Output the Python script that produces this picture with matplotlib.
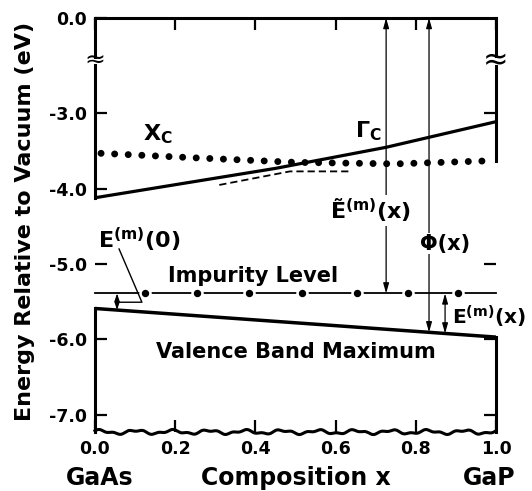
import numpy as np
import matplotlib
matplotlib.use("Agg")
import matplotlib.pyplot as plt

plt.rcParams["font.family"] = ["DejaVu Sans"]
plt.rcParams["font.weight"] = "bold"
plt.rcParams["mathtext.default"] = "bf"

# --- values (composition x, energy in eV) ---
comp_gamma = [0.0, 0.45, 0.726, 1.0]
e_gamma = [-4.12, -3.73, -3.45, -3.11]

comp_xc = [0.015, 0.25, 0.5, 0.75, 0.98]
e_xc = [-3.53, -3.59, -3.65, -3.67, -3.63]

comp_dash = [0.31, 0.486, 0.64]
e_dash = [-3.95, -3.77, -3.77]

comp_vbm = [0.0, 1.0]
e_vbm = [-5.59, -5.97]

e_imp = -5.39
comp_imp_dots = [0.125, 0.254, 0.383, 0.516, 0.653, 0.78, 0.905]

x_etilde = 0.726   # E~(m)(x) arrow
x_phi = 0.833      # Phi(x) arrow
x_em = 0.873       # E(m)(x) arrow
x_em0 = 0.055      # E(m)(0) arrow

xticks = [0.0, 0.2, 0.4, 0.6, 0.8, 1.0]
xtick_labels = ["0.0", "0.2", "0.4", "0.6", "0.8", "1.0"]
yticks = [0.0, -3.0, -4.0, -5.0, -6.0, -7.0]
ytick_labels = ["0.0", "-3.0", "-4.0", "-5.0", "-6.0", "-7.0"]
yticks_right = [-3.0, -5.0, -6.0, -7.0]

Y_BOT = -7.23
BREAK = -1.35

# broken axis: everything above -3 eV is squeezed
K = 0.4222


def fwd(e):
    e = np.asarray(e, dtype=float)
    return np.where(e < -3, e, -3 + (e + 3) * K)


def inv(v):
    v = np.asarray(v, dtype=float)
    return np.where(v < -3, v, -3 + (v + 3) / K)


fig = plt.figure(figsize=(5.32, 4.91), dpi=100)
ax = fig.add_axes([95 / 532, 1 - 432 / 491, 401 / 532, 414 / 491])
ax.set_yscale("function", functions=(fwd, inv))
ax.set_xlim(0, 1)
ax.set_ylim(Y_BOT, 0)

for s in ["left", "right", "bottom"]:
    ax.spines[s].set_visible(False)
ax.spines["top"].set_linewidth(2.2)

SP = dict(color="k", lw=2.2, clip_on=False, solid_capstyle="projecting")
# left frame pieces
ax.plot([0, 0], [0, BREAK + 0.12], **SP)
ax.plot([0, 0], [BREAK - 0.12, e_gamma[0]], **SP)
ax.plot([0, 0], [e_vbm[0], Y_BOT], **SP)
# right frame pieces
ax.plot([1, 1], [0, BREAK + 0.15], **SP)
ax.plot([1, 1], [BREAK - 0.15, e_xc[-1]], **SP)
ax.plot([1, 1], [e_vbm[-1], Y_BOT], **SP)
ax.text(0, BREAK, "\u2248", ha="center", va="center", fontsize=18,
        fontweight="normal", clip_on=False)
ax.text(1, BREAK, "\u2248", ha="center", va="center", fontsize=22,
        fontweight="normal", clip_on=False)

# wavy bottom edge (cut axis)
xw = np.linspace(0, 1, 400)
yw = Y_BOT + 0.022 * np.sin(2 * np.pi * 11 * xw + 0.8) + 0.012 * np.sin(2 * np.pi * 27 * xw)
ax.plot(xw, yw, color="k", lw=2.2, clip_on=False)

# bands
ax.plot(comp_gamma, e_gamma, color="k", lw=2.3, solid_capstyle="butt")
ax.plot(comp_vbm, e_vbm, color="k", lw=2.5, solid_capstyle="butt")
ax.plot(comp_xc, e_xc, color="k", lw=5.0, ls=(0, (0.01, 1.95)),
        dash_capstyle="round")
ax.plot(comp_dash, e_dash, color="k", lw=1.3, ls=(0, (4, 2.2)))

# impurity level
ax.plot([0, 1], [e_imp, e_imp], color="k", lw=1.3, clip_on=False)
ax.plot(comp_imp_dots, [e_imp] * len(comp_imp_dots), "o", ms=8,
        mfc="white", mec="white", ls="none")
ax.plot(comp_imp_dots, [e_imp] * len(comp_imp_dots), "o", ms=4.3,
        mfc="k", mec="k", ls="none")

# arrows
AP = dict(arrowstyle="<|-|>,head_length=0.6,head_width=0.17", lw=0.9,
          color="k", shrinkA=0, shrinkB=0, mutation_scale=10)
vbm_at = lambda x: np.interp(x, comp_vbm, e_vbm)
ax.annotate("", xy=(x_etilde, 0), xytext=(x_etilde, e_imp),
            arrowprops=AP, annotation_clip=False)
ax.annotate("", xy=(x_phi, 0), xytext=(x_phi, vbm_at(x_phi)),
            arrowprops=AP, annotation_clip=False)
ax.annotate("", xy=(x_em, e_imp), xytext=(x_em, vbm_at(x_em)),
            arrowprops=AP, annotation_clip=False)
ax.annotate("", xy=(x_em0, e_imp), xytext=(x_em0, vbm_at(x_em0)),
            arrowprops=dict(AP, arrowstyle="<|-|>,head_length=0.45,head_width=0.15"),
            annotation_clip=False)
# leader for E(m)(0)
ax.plot([0.06, 0.117, x_em0], [-4.8, -5.507, -5.507], color="k", lw=1.0)

# labels
ax.text(0.12, -3.36, r"$X_C$", fontsize=16, va="baseline")
ax.text(0.648, -3.32, r"$\Gamma_C$", fontsize=16, va="baseline")
ax.text(0.586, -4.40, "\u1ebc$^{(m)}$(x)", fontsize=16, va="baseline",
        bbox=dict(facecolor="white", edgecolor="none", pad=1.0))
ax.text(0.81, -4.81, "\u03a6(x)", fontsize=15, va="baseline",
        bbox=dict(facecolor="white", edgecolor="none", pad=0.5))
ax.text(0.89, -5.80, "E$^{(m)}$(x)", fontsize=14.5, va="baseline")
ax.text(0.007, -4.79, "E$^{(m)}$(0)", fontsize=16, va="baseline")
ax.text(0.393, -5.24, "Impurity Level", fontsize=15, ha="center", va="baseline")
ax.text(0.501, -6.25, "Valence Band Maximum", fontsize=15, ha="center",
        va="baseline")

# ticks
ax.set_xticks(xticks)
ax.set_xticklabels(xtick_labels)
ax.set_yticks(yticks)
ax.set_yticklabels(ytick_labels)
ax.tick_params(direction="in", length=8.5, width=1.6, top=True,
               labelsize=12.5, pad=5.5)
ax.minorticks_off()

ax2 = ax.twinx()
ax2.set_yscale("function", functions=(fwd, inv))
ax2.set_ylim(Y_BOT, 0)
ax2.set_yticks(yticks_right)
ax2.tick_params(direction="in", length=8.5, width=1.6, labelright=False)
ax2.minorticks_off()
for s in ax2.spines.values():
    s.set_visible(False)

ax.text(0.012, -0.128, "GaAs", transform=ax.transAxes, fontsize=17,
        ha="center", va="baseline")
ax.text(0.50, -0.128, "Composition x", transform=ax.transAxes, fontsize=17,
        ha="center", va="baseline")
ax.text(0.982, -0.128, "GaP", transform=ax.transAxes, fontsize=17,
        ha="center", va="baseline")
fig.text(25 / 532, 1 - 221.5 / 491, "Energy Relative to Vacuum (eV)",
         rotation=90, ha="center", va="center", fontsize=16)

fig.savefig("out.png", dpi=100)
